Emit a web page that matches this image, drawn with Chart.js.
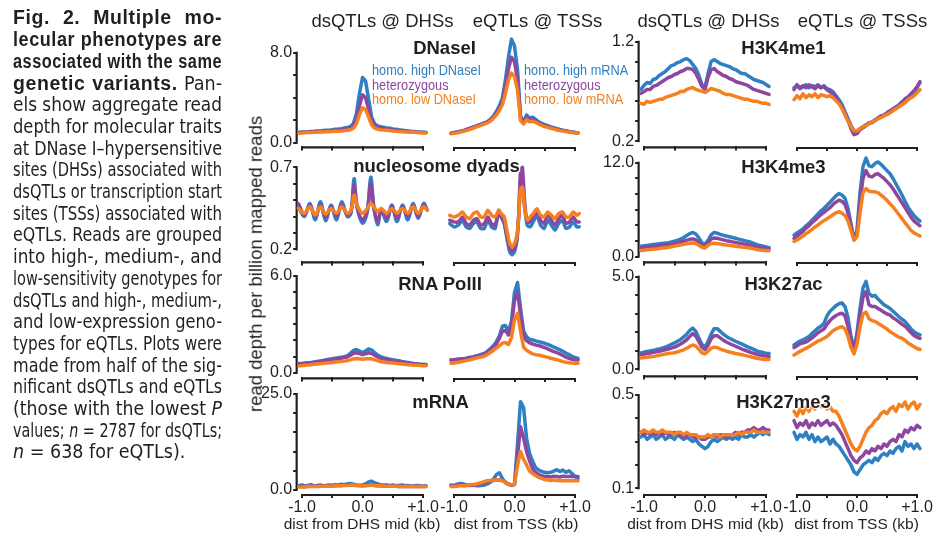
<!DOCTYPE html>
<html><head><meta charset="utf-8">
<script src="https://cdn.jsdelivr.net/npm/chart.js@4.4.1/dist/chart.umd.min.js"></script>
<style>
html,body{margin:0;padding:0;background:#fff;}
body{width:946px;height:559px;position:relative;overflow:hidden;font-family:'Liberation Sans',Arial,sans-serif;color:#231f20;}
canvas{position:absolute;}
.t{position:absolute;white-space:nowrap;line-height:1;}
.cl{position:absolute;left:13px;white-space:nowrap;font-size:19.5px;line-height:21.7px;font-family:'Liberation Sans Narrow','DejaVu Sans Condensed','Liberation Sans',sans-serif;color:#231f20;}
.cl b{font-family:'Liberation Sans',Arial,sans-serif;font-weight:bold;letter-spacing:0.6px;}
.halo{text-shadow:0 0 2px #fff,0 0 2px #fff,0 0 3px #fff,1px 1px 1px #fff,-1px -1px 1px #fff;}
</style></head><body>
<script>
// ================= DATA =================
// x positions (kb)
const xGrid = [-1.05,-1.0,-0.95,-0.9,-0.85,-0.8,-0.75,-0.7,-0.65,-0.6,
  -0.55,-0.5,-0.45,-0.4,-0.35,-0.3,-0.25,-0.2,-0.15,-0.1,
  -0.05,0,0.05,0.1,0.15,0.2,0.25,0.3,0.35,0.4,
  0.45,0.5,0.55,0.6,0.65,0.7,0.75,0.8,0.85,0.9,
  0.95,1.0,1.05];
const xNucDhs = [-1.06,-0.96,-0.87,-0.78,-0.695,-0.61,-0.52,-0.43,-0.345,-0.25,
  -0.19,-0.14,-0.09,0.0,0.08,0.135,0.19,0.25,0.31,0.40,
  0.485,0.57,0.66,0.75,0.835,0.92,1.01,1.07];
const xNucTss = [-1.07,-1.0,-0.93,-0.86,-0.8,-0.74,-0.68,-0.62,-0.56,-0.5,
  -0.44,-0.38,-0.32,-0.26,-0.22,-0.17,-0.12,-0.08,-0.04,0.0,
  0.04,0.07,0.1,0.13,0.17,0.21,0.26,0.31,0.37,0.43,
  0.49,0.55,0.61,0.67,0.73,0.79,0.85,0.91,0.97,1.03,1.07];
const xTickValues = [-1,-0.5,0,0.5,1];
const xTickLabels = ['-1.0','','0.0','','+1.0'];
const seriesNames = ['homo. high','heterozygous','homo. low'];

// Y tick values per panel row
const yTicksDnase = [0,2,4,6,8];
const yTicksNuc = [0.2,0.3,0.4,0.5,0.6,0.7];
const yTicksPol = [0,1,2,3,4,5,6];
const yTicksMrna = [0,5,10,15,20,25];
const yTicksK4me1 = [0.2,0.4,0.6,0.8,1.0,1.2];
const yTicksK4me3 = [0,2,4,6,8,10,12];
const yTicksK27ac = [0,1,2,3,4,5];
const yTicksK27me3 = [0.1,0.2,0.3,0.4,0.5];

// DNaseI @ DHS
const dnaseDhsHi = [0.92,0.95,0.93,0.98,1.0,1.02,1.05,1.04,1.08,1.1, 1.12,1.15,1.2,1.22,1.25,1.3,1.35,1.45,1.7,2.6, 4.4,5.8,5.5,3.9,2.3,1.7,1.5,1.42,1.38,1.3, 1.28,1.22,1.2,1.15,1.12,1.08,1.05,1.02,1.0,0.97, 0.95,0.94,0.92];
const dnaseDhsHet = [0.9,0.92,0.92,0.95,0.97,0.98,1.0,1.0,1.03,1.05, 1.07,1.08,1.12,1.14,1.16,1.2,1.25,1.32,1.5,2.1, 3.3,4.25,4.0,3.0,1.9,1.5,1.35,1.3,1.25,1.2, 1.18,1.14,1.12,1.08,1.05,1.02,1.0,0.98,0.96,0.94, 0.92,0.9,0.9];
const dnaseDhsLo = [0.85,0.87,0.88,0.9,0.9,0.92,0.93,0.95,0.95,0.97, 0.98,1.0,1.02,1.03,1.05,1.08,1.1,1.15,1.28,1.7, 2.5,3.1,2.95,2.3,1.6,1.3,1.2,1.15,1.12,1.1, 1.08,1.05,1.03,1.0,0.98,0.96,0.95,0.93,0.92,0.9, 0.88,0.87,0.86];
// DNaseI @ TSS
const dnaseTssHi = [0.9,0.95,1.0,1.05,1.1,1.2,1.3,1.4,1.5,1.6, 1.7,1.8,1.9,2.1,2.4,2.8,3.3,4.0,5.6,7.6, 9.2,8.6,6.5,2.4,1.9,2.5,2.2,2.3,2.1,1.9, 1.75,1.65,1.55,1.45,1.38,1.3,1.22,1.15,1.1,1.05, 1.0,0.95,0.92];
const dnaseTssHet = [0.88,0.92,0.98,1.05,1.12,1.2,1.3,1.38,1.48,1.58, 1.68,1.78,1.88,2.05,2.3,2.65,3.1,3.7,5.0,6.6, 7.6,7.2,5.6,2.2,1.8,2.3,2.05,2.1,1.95,1.8, 1.65,1.55,1.48,1.4,1.32,1.25,1.18,1.12,1.08,1.03, 0.98,0.95,0.92];
const dnaseTssLo = [0.85,0.88,0.92,0.98,1.05,1.12,1.2,1.3,1.4,1.5, 1.6,1.7,1.8,1.95,2.2,2.5,2.9,3.4,4.4,5.6, 6.2,5.9,4.7,2.0,1.7,2.1,1.9,1.95,1.85,1.7, 1.58,1.48,1.4,1.32,1.25,1.18,1.12,1.08,1.03,1.0, 0.95,0.92,0.9];
// nucleosome dyads @ DHS (xNucDhs)
const nucDhsHi = [0.46,0.40,0.48,0.38,0.49,0.375,0.47,0.38,0.49,0.40, 0.42,0.63,0.46,0.36,0.43,0.64,0.45,0.35,0.44,0.37, 0.47,0.37,0.47,0.38,0.48,0.39,0.48,0.44];
const nucDhsHet = [0.48,0.41,0.47,0.40,0.47,0.395,0.46,0.40,0.47,0.41, 0.43,0.59,0.46,0.38,0.44,0.60,0.45,0.37,0.44,0.39, 0.46,0.39,0.46,0.40,0.47,0.40,0.47,0.44];
const nucDhsLo = [0.45,0.42,0.46,0.41,0.46,0.415,0.45,0.42,0.46,0.42, 0.44,0.53,0.47,0.42,0.45,0.48,0.46,0.43,0.45,0.42, 0.45,0.42,0.45,0.42,0.46,0.42,0.46,0.44];
// nucleosome dyads @ TSS (xNucTss)
const nucTssHi = [0.36,0.34,0.35,0.38,0.34,0.33,0.36,0.37,0.33,0.33, 0.38,0.34,0.33,0.44,0.40,0.36,0.26,0.19,0.17,0.19, 0.26,0.40,0.62,0.60,0.45,0.35,0.34,0.37,0.41,0.35, 0.33,0.38,0.35,0.32,0.36,0.38,0.33,0.34,0.37,0.34,0.34];
const nucTssHet = [0.38,0.37,0.37,0.40,0.36,0.35,0.38,0.39,0.35,0.36, 0.40,0.36,0.35,0.43,0.40,0.37,0.28,0.21,0.19,0.21, 0.27,0.42,0.68,0.70,0.48,0.37,0.37,0.40,0.44,0.38, 0.36,0.42,0.38,0.35,0.39,0.41,0.36,0.37,0.40,0.37,0.37];
const nucTssLo = [0.41,0.40,0.41,0.43,0.40,0.39,0.42,0.43,0.40,0.40, 0.44,0.41,0.40,0.44,0.42,0.40,0.31,0.24,0.22,0.24, 0.29,0.40,0.57,0.58,0.45,0.38,0.40,0.42,0.45,0.41, 0.40,0.43,0.41,0.39,0.42,0.43,0.40,0.40,0.43,0.41,0.42];
// RNA PolII @ DHS
const polDhsHi = [0.57,0.58,0.6,0.62,0.64,0.67,0.7,0.73,0.76,0.8, 0.84,0.87,0.9,0.93,0.96,1.0,1.06,1.2,1.38,1.44, 1.35,1.25,1.35,1.48,1.42,1.25,1.1,1.0,0.93,0.88, 0.84,0.8,0.77,0.74,0.7,0.67,0.64,0.6,0.57,0.55, 0.53,0.52,0.51];
const polDhsHet = [0.55,0.56,0.58,0.6,0.62,0.64,0.67,0.7,0.73,0.76, 0.79,0.82,0.85,0.88,0.9,0.94,0.98,1.08,1.2,1.24, 1.18,1.12,1.17,1.24,1.2,1.08,0.98,0.9,0.85,0.8, 0.77,0.74,0.71,0.68,0.65,0.62,0.6,0.57,0.55,0.53, 0.51,0.5,0.49];
const polDhsLo = [0.42,0.44,0.46,0.48,0.5,0.52,0.54,0.56,0.58,0.6, 0.62,0.64,0.66,0.68,0.7,0.72,0.75,0.8,0.86,0.88, 0.86,0.84,0.86,0.87,0.86,0.8,0.75,0.7,0.67,0.64, 0.62,0.6,0.58,0.56,0.54,0.52,0.5,0.49,0.47,0.46, 0.45,0.44,0.44];
// RNA PolII @ TSS
const polTssHi = [0.82,0.84,0.86,0.88,0.9,0.93,0.97,1.0,1.05,1.1, 1.17,1.23,1.35,1.5,1.7,1.95,2.3,2.9,2.95,2.6, 3.2,5.0,5.6,4.0,2.6,2.25,2.1,2.05,2.0,1.95, 1.9,1.85,1.78,1.7,1.62,1.54,1.45,1.35,1.25,1.15, 1.05,0.98,0.92];
const polTssHet = [0.82,0.83,0.84,0.86,0.88,0.9,0.94,0.98,1.02,1.07, 1.12,1.16,1.28,1.42,1.6,1.82,2.15,2.6,2.65,2.36, 2.9,4.5,5.0,3.6,2.3,2.0,1.88,1.8,1.75,1.72, 1.65,1.58,1.5,1.42,1.34,1.27,1.2,1.1,1.0,0.92, 0.87,0.84,0.82];
const polTssLo = [0.62,0.64,0.67,0.7,0.74,0.78,0.82,0.87,0.92,0.97, 1.0,1.05,1.15,1.28,1.42,1.56,1.7,1.86,1.9,1.78, 2.2,3.3,3.7,2.6,1.6,1.42,1.3,1.2,1.15,1.12, 1.08,1.03,0.98,0.93,0.88,0.84,0.78,0.72,0.68,0.65, 0.63,0.62,0.62];
// mRNA @ DHS
const mrnaDhsHi = [1.1,1.3,1.0,1.2,1.4,1.0,1.2,1.3,1.1,1.2, 1.3,1.2,1.4,1.3,1.5,1.4,1.6,1.7,1.5,1.3, 1.2,1.3,1.6,2.1,2.3,1.9,1.6,1.4,1.3,1.3, 1.2,1.3,1.1,1.2,1.3,1.1,1.2,1.0,1.1,1.2, 1.1,1.0,1.1];
const mrnaDhsHet = [0.9,1.0,0.9,1.0,1.0,1.0,1.1,1.0,1.1,1.1, 1.1,1.2,1.1,1.2,1.2,1.3,1.3,1.3,1.3,1.2, 1.2,1.1,1.2,1.3,1.3,1.2,1.1,1.1,1.0,1.0, 1.0,1.0,1.0,0.9,1.0,0.9,1.0,0.9,0.9,1.0, 0.9,0.9,0.9];
const mrnaDhsLo = [0.8,0.8,0.8,0.9,0.9,0.9,0.9,1.0,1.0,1.0, 1.0,1.0,1.1,1.1,1.1,1.2,1.2,1.3,1.3,1.2, 1.2,1.1,1.1,1.2,1.3,1.2,1.1,1.1,1.0,1.0, 1.0,1.0,1.0,0.9,0.9,0.9,0.9,0.9,0.9,0.9, 0.9,0.9,0.9];
// mRNA @ TSS
const mrnaTssHi = [1.3,1.2,1.5,1.7,1.6,1.3,1.2,1.3,1.2,1.1, 1.2,1.3,1.6,2.0,2.8,4.0,4.5,3.0,1.9,1.4, 1.2,1.5,12.0,23.0,21.5,13.4,9.5,7.5,5.8,5.2, 4.8,4.6,4.5,4.6,4.9,5.3,4.8,5.2,4.6,5.0, 4.3,3.5,3.0];
const mrnaTssHet = [1.1,1.1,1.2,1.3,1.2,1.2,1.3,1.2,1.3,1.4, 1.6,1.9,2.1,2.3,2.5,2.6,2.6,2.5,2.1,1.6, 1.3,1.4,9.0,16.5,13.5,10.0,7.5,5.5,4.6,4.0, 3.7,3.5,3.5,3.4,3.6,3.5,3.4,3.6,3.5,3.5, 3.5,3.5,3.5];
const mrnaTssLo = [0.9,0.9,1.0,1.1,1.1,1.2,1.3,1.4,1.5,1.7, 1.9,2.2,2.4,2.5,2.6,2.6,2.6,2.4,2.0,1.5, 1.3,1.5,6.5,10.0,8.0,6.5,4.9,4.3,3.7,3.3, 3.0,2.7,2.6,2.5,2.6,2.5,2.4,2.5,2.4,2.4, 2.4,2.4,2.4];
// H3K4me1 @ DHS
const k4me1DhsHi = [0.72,0.76,0.79,0.78,0.82,0.83,0.86,0.88,0.9,0.93, 0.96,0.97,0.99,1.0,1.02,1.03,1.01,0.97,0.93,0.86, 0.77,0.74,0.88,1.0,1.02,1.0,0.98,0.97,0.96,0.95, 0.93,0.92,0.9,0.88,0.88,0.86,0.84,0.82,0.81,0.8, 0.79,0.77,0.75];
const k4me1DhsHet = [0.68,0.7,0.72,0.72,0.75,0.76,0.78,0.8,0.82,0.84, 0.85,0.87,0.88,0.9,0.91,0.93,0.93,0.92,0.88,0.82, 0.75,0.72,0.84,0.92,0.93,0.9,0.88,0.86,0.85,0.83, 0.82,0.8,0.79,0.78,0.77,0.76,0.74,0.72,0.71,0.7, 0.69,0.68,0.67];
const k4me1DhsLo = [0.58,0.57,0.6,0.59,0.6,0.61,0.62,0.62,0.64,0.65, 0.66,0.67,0.68,0.7,0.7,0.72,0.73,0.74,0.72,0.71, 0.7,0.69,0.71,0.73,0.72,0.71,0.7,0.68,0.67,0.67, 0.66,0.65,0.64,0.63,0.62,0.62,0.61,0.6,0.6,0.59, 0.58,0.58,0.57];
// H3K4me1 @ TSS
const k4me1TssHi = [0.74,0.76,0.73,0.75,0.77,0.74,0.76,0.75,0.77,0.74, 0.76,0.73,0.72,0.7,0.66,0.62,0.57,0.5,0.43,0.36, 0.31,0.3,0.33,0.35,0.37,0.38,0.4,0.41,0.44,0.45, 0.47,0.48,0.5,0.53,0.54,0.57,0.6,0.62,0.65,0.67, 0.7,0.74,0.79];
const k4me1TssHet = [0.72,0.77,0.74,0.76,0.74,0.77,0.75,0.73,0.76,0.74, 0.75,0.72,0.7,0.68,0.65,0.6,0.55,0.48,0.41,0.33, 0.27,0.28,0.32,0.34,0.36,0.39,0.39,0.42,0.43,0.46, 0.46,0.49,0.51,0.52,0.55,0.56,0.59,0.63,0.64,0.68, 0.71,0.75,0.8];
const k4me1TssLo = [0.62,0.66,0.63,0.68,0.64,0.67,0.65,0.68,0.64,0.67, 0.66,0.65,0.66,0.64,0.61,0.58,0.53,0.47,0.41,0.35, 0.31,0.31,0.33,0.35,0.36,0.38,0.4,0.41,0.43,0.44, 0.46,0.47,0.49,0.51,0.53,0.55,0.57,0.59,0.62,0.64, 0.66,0.69,0.72];
// H3K4me3 @ DHS
const k4me3DhsHi = [1.35,1.4,1.45,1.5,1.55,1.6,1.65,1.7,1.75,1.8, 1.88,1.98,2.1,2.25,2.45,2.7,2.95,3.1,2.9,2.4, 1.8,1.55,2.1,2.8,3.1,3.0,2.85,2.75,2.65,2.55, 2.45,2.35,2.25,2.15,2.05,1.95,1.85,1.7,1.55,1.45, 1.35,1.25,1.15];
const k4me3DhsHet = [1.14,1.18,1.22,1.26,1.3,1.35,1.4,1.45,1.5,1.55, 1.62,1.72,1.8,1.9,2.0,2.12,2.22,2.28,2.15,1.8, 1.45,1.35,1.8,2.25,2.4,2.35,2.25,2.15,2.05,1.98, 1.9,1.82,1.75,1.68,1.6,1.52,1.45,1.35,1.25,1.18, 1.12,1.08,1.05];
const k4me3DhsLo = [0.8,0.84,0.88,0.92,0.96,1.0,1.05,1.1,1.15,1.2, 1.27,1.35,1.42,1.5,1.58,1.66,1.72,1.77,1.7,1.45, 1.2,1.12,1.45,1.7,1.72,1.68,1.62,1.55,1.5,1.45, 1.4,1.35,1.3,1.25,1.2,1.14,1.08,1.0,0.93,0.87, 0.83,0.8,0.77];
// H3K4me3 @ TSS
const k4me3TssHi = [2.8,3.1,3.35,3.6,4.0,4.3,4.7,5.1,5.5,5.9, 6.2,6.6,7.0,7.4,7.8,8.1,7.9,7.5,6.2,4.2, 2.3,3.4,8.2,11.5,12.6,11.6,11.5,11.9,12.1,11.8, 11.4,11.0,10.6,10.0,9.3,8.6,7.9,7.1,6.4,5.8, 5.3,4.9,4.6];
const k4me3TssHet = [2.4,2.7,3.0,3.3,3.7,4.0,4.4,4.7,5.1,5.4, 5.7,6.0,6.3,6.7,7.0,7.25,7.1,6.7,5.6,3.9, 2.2,3.0,7.0,10.0,11.0,10.3,10.2,10.5,10.6,10.3, 10.0,9.6,9.2,8.7,8.1,7.5,6.9,6.3,5.7,5.1, 4.6,4.3,4.0];
const k4me3TssLo = [2.0,2.2,2.45,2.7,3.0,3.25,3.55,3.85,4.1,4.4, 4.65,4.9,5.15,5.4,5.65,5.8,5.6,5.3,4.6,3.4, 2.2,2.6,5.6,8.2,8.7,8.4,8.3,8.3,8.2,7.9, 7.6,7.2,6.8,6.4,5.9,5.4,4.9,4.4,3.9,3.4, 3.1,2.9,2.7];
// H3K27ac @ DHS
const k27acDhsHi = [0.89,0.93,0.97,1.0,1.03,1.07,1.1,1.15,1.2,1.27, 1.35,1.43,1.52,1.62,1.75,1.9,2.1,2.23,2.05,1.7, 1.35,1.18,1.5,1.9,2.2,2.2,2.05,1.9,1.78,1.68, 1.6,1.52,1.45,1.38,1.3,1.22,1.15,1.08,1.0,0.95, 0.91,0.88,0.86];
const k27acDhsHet = [0.8,0.83,0.86,0.89,0.92,0.95,0.98,1.02,1.06,1.1, 1.15,1.2,1.28,1.37,1.48,1.6,1.78,1.93,1.8,1.5, 1.2,1.07,1.3,1.65,1.82,1.82,1.7,1.58,1.48,1.4, 1.32,1.25,1.18,1.1,1.04,0.98,0.92,0.87,0.82,0.77, 0.74,0.72,0.7];
const k27acDhsLo = [0.62,0.64,0.66,0.68,0.7,0.73,0.76,0.8,0.83,0.86, 0.88,0.9,0.95,1.0,1.06,1.14,1.24,1.32,1.26,1.08, 0.9,0.84,0.98,1.15,1.2,1.18,1.1,1.04,0.99,0.94, 0.9,0.86,0.83,0.8,0.76,0.72,0.68,0.64,0.6,0.57, 0.55,0.54,0.54];
// H3K27ac @ TSS
const k27acTssHi = [1.34,1.45,1.55,1.62,1.7,1.8,1.95,2.1,2.25,2.35, 2.5,2.9,3.15,3.3,3.45,3.55,3.6,3.4,2.8,1.8, 1.1,2.0,3.3,4.4,4.75,4.1,3.95,4.0,3.8,3.65, 3.5,3.4,3.3,3.15,3.0,2.85,2.72,2.6,2.4,2.2, 2.05,1.95,1.88];
const k27acTssHet = [1.2,1.3,1.4,1.45,1.5,1.6,1.72,1.85,2.0,2.1, 2.2,2.45,2.65,2.8,2.92,3.0,3.04,2.9,2.35,1.6, 1.07,1.8,2.9,3.9,4.2,3.5,3.4,3.4,3.3,3.2, 3.1,3.0,2.95,2.8,2.7,2.58,2.45,2.35,2.18,2.0, 1.85,1.75,1.7];
const k27acTssLo = [0.8,0.9,1.0,1.08,1.16,1.25,1.35,1.45,1.55,1.62, 1.7,1.8,1.95,2.1,2.2,2.28,2.32,2.2,1.8,1.2, 0.86,1.4,2.3,3.0,3.1,2.75,2.65,2.6,2.5,2.4, 2.3,2.2,2.05,1.96,1.85,1.75,1.7,1.6,1.45,1.35, 1.25,1.15,1.1];
// H3K27me3 @ DHS
const k27me3DhsHi = [0.32,0.33,0.31,0.32,0.33,0.31,0.32,0.33,0.31,0.32, 0.32,0.31,0.33,0.32,0.31,0.32,0.31,0.3,0.31,0.29, 0.28,0.27,0.28,0.3,0.31,0.3,0.31,0.32,0.31,0.32, 0.31,0.32,0.31,0.33,0.32,0.32,0.33,0.32,0.33,0.34, 0.33,0.34,0.33];
const k27me3DhsHet = [0.34,0.33,0.34,0.33,0.34,0.33,0.34,0.33,0.34,0.33, 0.33,0.34,0.33,0.33,0.32,0.33,0.33,0.32,0.32,0.32, 0.31,0.31,0.32,0.32,0.33,0.32,0.33,0.33,0.32,0.33, 0.33,0.34,0.33,0.34,0.34,0.35,0.35,0.36,0.35,0.35, 0.36,0.35,0.35];
const k27me3DhsLo = [0.34,0.35,0.34,0.34,0.35,0.34,0.34,0.35,0.34,0.34, 0.34,0.33,0.34,0.34,0.33,0.34,0.33,0.33,0.33,0.32, 0.32,0.32,0.33,0.32,0.33,0.33,0.32,0.33,0.33,0.33, 0.33,0.33,0.34,0.33,0.34,0.34,0.34,0.35,0.34,0.34, 0.34,0.34,0.34];
// H3K27me3 @ TSS
const k27me3TssHi = [0.34,0.31,0.33,0.32,0.34,0.31,0.33,0.3,0.32,0.3, 0.31,0.32,0.29,0.31,0.29,0.28,0.26,0.24,0.22,0.2, 0.17,0.16,0.18,0.2,0.21,0.22,0.21,0.23,0.22,0.24, 0.25,0.24,0.26,0.25,0.27,0.28,0.26,0.3,0.28,0.29, 0.27,0.29,0.27];
const k27me3TssHet = [0.39,0.36,0.38,0.37,0.39,0.36,0.38,0.37,0.39,0.37, 0.38,0.39,0.37,0.38,0.37,0.35,0.33,0.3,0.27,0.24, 0.22,0.21,0.23,0.24,0.26,0.25,0.27,0.26,0.28,0.27, 0.29,0.28,0.3,0.31,0.3,0.33,0.32,0.35,0.34,0.36, 0.35,0.37,0.36];
const k27me3TssLo = [0.43,0.41,0.44,0.42,0.45,0.43,0.46,0.44,0.47,0.45, 0.46,0.44,0.45,0.43,0.43,0.41,0.38,0.35,0.32,0.29, 0.27,0.26,0.28,0.31,0.34,0.36,0.37,0.39,0.4,0.42, 0.43,0.42,0.44,0.45,0.43,0.46,0.45,0.47,0.44,0.46, 0.47,0.44,0.46];

// ================= LAYOUT / STYLE =================
const BLUE = '#2e80c3', PURPLE = '#8d479f', ORANGE = '#f5801f', DARK = '#231f20';
const XMIN = -1.08, XMAX = 1.08;
const COLS = { LL:{m1:302,p1:423}, LR:{m1:454,p1:575}, RL:{m1:644,p1:766}, RR:{m1:797,p1:917} };
const ROWS = {
  L:[{T:52.7,Bt:143.3,B:147},{T:167.3,Bt:250,B:262},{T:276,Bt:373.3,B:378},{T:394,Bt:490,B:494}],
  R:[{T:41.7,Bt:141.7,B:147},{T:162.7,Bt:257.3,B:262},{T:276.7,Bt:370,B:376},{T:395,Bt:488.3,B:494}]
};
Chart.defaults.font.family = "'Liberation Sans', Arial, sans-serif";
Chart.defaults.color = DARK;

const panels = [
  {grp:'L',row:0,col:'LL',showY:true,ticks:yTicksDnase,x:xGrid,d:[dnaseDhsHi,dnaseDhsHet,dnaseDhsLo]},
  {grp:'L',row:0,col:'LR',showY:false,ticks:yTicksDnase,x:xGrid,d:[dnaseTssHi,dnaseTssHet,dnaseTssLo]},
  {grp:'L',row:1,col:'LL',showY:true,ticks:yTicksNuc,x:xNucDhs,d:[nucDhsHi,nucDhsHet,nucDhsLo],tension:0.35},
  {grp:'L',row:1,col:'LR',showY:false,ticks:yTicksNuc,x:xNucTss,d:[nucTssHi,nucTssHet,nucTssLo],tension:0.2},
  {grp:'L',row:2,col:'LL',showY:true,ticks:yTicksPol,x:xGrid,d:[polDhsHi,polDhsHet,polDhsLo]},
  {grp:'L',row:2,col:'LR',showY:false,ticks:yTicksPol,x:xGrid,d:[polTssHi,polTssHet,polTssLo]},
  {grp:'L',row:3,col:'LL',showY:true,ticks:yTicksMrna,x:xGrid,d:[mrnaDhsHi,mrnaDhsHet,mrnaDhsLo]},
  {grp:'L',row:3,col:'LR',showY:false,ticks:yTicksMrna,x:xGrid,d:[mrnaTssHi,mrnaTssHet,mrnaTssLo]},
  {grp:'R',row:0,col:'RL',showY:true,ticks:yTicksK4me1,x:xGrid,d:[k4me1DhsHi,k4me1DhsHet,k4me1DhsLo]},
  {grp:'R',row:0,col:'RR',showY:false,ticks:yTicksK4me1,x:xGrid,d:[k4me1TssHi,k4me1TssHet,k4me1TssLo]},
  {grp:'R',row:1,col:'RL',showY:true,ticks:yTicksK4me3,x:xGrid,d:[k4me3DhsHi,k4me3DhsHet,k4me3DhsLo]},
  {grp:'R',row:1,col:'RR',showY:false,ticks:yTicksK4me3,x:xGrid,d:[k4me3TssHi,k4me3TssHet,k4me3TssLo]},
  {grp:'R',row:2,col:'RL',showY:true,ticks:yTicksK27ac,x:xGrid,d:[k27acDhsHi,k27acDhsHet,k27acDhsLo]},
  {grp:'R',row:2,col:'RR',showY:false,ticks:yTicksK27ac,x:xGrid,d:[k27acTssHi,k27acTssHet,k27acTssLo]},
  {grp:'R',row:3,col:'RL',showY:true,ticks:yTicksK27me3,x:xGrid,d:[k27me3DhsHi,k27me3DhsHet,k27me3DhsLo]},
  {grp:'R',row:3,col:'RR',showY:false,ticks:yTicksK27me3,x:xGrid,d:[k27me3TssHi,k27me3TssHet,k27me3TssLo]}
];

const axisLines = {
  id:'axisLines',
  beforeDatasetsDraw(chart, args, o) {
    const {ctx, chartArea:ca, scales:{x, y}} = chart;
    ctx.save(); ctx.strokeStyle = DARK; ctx.lineWidth = 2.2; ctx.lineCap = 'butt';
    if (o.showY) {
      ctx.beginPath();
      ctx.moveTo(ca.left - 0.5, y.getPixelForValue(o.yTop) - 1);
      ctx.lineTo(ca.left - 0.5, y.getPixelForValue(o.yBot) + 1);
      ctx.stroke();
    }
    ctx.beginPath();
    ctx.moveTo(x.getPixelForValue(-1) - 1, ca.bottom + 1);
    ctx.lineTo(x.getPixelForValue(1) + 1, ca.bottom + 1);
    ctx.stroke();
    ctx.restore();
  }
};

function makePanel(p) {
  const col = COLS[p.col], row = ROWS[p.grp][p.row];
  const k = (col.p1 - col.m1) / 2;
  const L = col.m1 + (XMIN + 1) * k, R = col.p1 + (XMAX - 1) * k;
  const yW = p.showY ? 44 : 0, padL = 24, padR = 24, padT = 22;
  const bottomRow = p.row === 3;
  const xH = bottomRow ? 30 : 6;
  const cl = Math.floor(L - yW - padL), ct = Math.floor(row.T - padT);
  const cw = Math.ceil(R + padR) - cl, ch = Math.ceil(row.B + xH + 4) - ct;
  const pad = {left: L - yW - cl, top: row.T - ct, right: cl + cw - R, bottom: ct + ch - row.B - xH};
  const top = p.ticks[p.ticks.length - 1], bot = p.ticks[0];
  const ymin = bot - (row.B - row.Bt) * (top - bot) / (row.Bt - row.T);
  const cv = document.createElement('canvas');
  cv.width = cw; cv.height = ch;
  cv.style.left = cl + 'px'; cv.style.top = ct + 'px';
  cv.style.width = cw + 'px'; cv.style.height = ch + 'px';
  document.body.appendChild(cv);
  const cols = [BLUE, PURPLE, ORANGE], orders = [2, 1, 0];
  new Chart(cv, {
    type: 'line',
    data: { datasets: p.d.map((arr, j) => ({
      label: seriesNames[j],
      data: p.x.map((xv, i) => ({x: xv, y: arr[i]})),
      borderColor: cols[j], backgroundColor: cols[j], borderWidth: 3.5,
      pointRadius: 0, tension: p.tension || 0, clip: false, order: orders[j],
      borderJoinStyle: 'round', borderCapStyle: 'round'
    })) },
    options: {
      responsive: false, animation: false, devicePixelRatio: 1,
      layout: { padding: pad },
      events: [],
      plugins: { legend: {display: false}, tooltip: {enabled: false},
        axisLines: { showY: p.showY, yTop: top, yBot: bot } },
      scales: {
        x: { type: 'linear', min: XMIN, max: XMAX,
          afterBuildTicks: s => { s.ticks = xTickValues.map(v => ({value: v})); },
          afterFit: s => { s.height = xH; },
          border: {display: false},
          grid: {drawOnChartArea: false, drawTicks: true, tickLength: 4, lineWidth: 2, color: DARK},
          ticks: {display: bottomRow, autoSkip: false, maxRotation: 0, minRotation: 0, padding: 0,
            font: {size: 16}, color: DARK, callback: (v, i) => xTickLabels[i]}
        },
        y: { type: 'linear', display: p.showY, min: ymin, max: top,
          afterBuildTicks: s => { s.ticks = p.ticks.map(v => ({value: v})); },
          afterFit: s => { s.width = yW; },
          border: {display: false},
          grid: {drawOnChartArea: false, drawTicks: true, tickLength: 4, lineWidth: 2, color: DARK},
          ticks: {autoSkip: false, padding: 1, font: {size: 16}, color: DARK,
            callback: (v, i, t) => (i === 0 || i === t.length - 1) ? Number(v).toFixed(1) : ''}
        }
      }
    },
    plugins: [axisLines]
  });
}
panels.forEach(makePanel);

// ================= TEXT =================
function txt(html, o) {
  const d = document.createElement('div');
  d.className = 't' + (o.halo ? ' halo' : '');
  d.innerHTML = html;
  d.style.fontSize = o.size + 'px';
  if (o.bold) d.style.fontWeight = 'bold';
  d.style.color = o.color || DARK;
  d.style.top = (o.base - 0.8465 * o.size) + 'px';
  if (o.cx !== undefined) { d.style.left = o.cx + 'px'; d.style.transform = 'translateX(-50%)'; }
  else { d.style.left = o.x + 'px'; if (o.sx) { d.style.transform = 'scaleX(' + o.sx + ')'; d.style.transformOrigin = '0 0'; } }
  document.body.appendChild(d);
  return d;
}
// column headers
txt('dsQTLs @ DHSs', {cx: 382.5, base: 27.5, size: 18.5});
txt('eQTLs @ TSSs', {cx: 537.5, base: 27.5, size: 18.5});
txt('dsQTLs @ DHSs', {cx: 708.5, base: 27.5, size: 18.5});
txt('eQTLs @ TSSs', {cx: 862.5, base: 27.5, size: 18.5});
// panel titles
txt('DNaseI', {cx: 444.5, base: 55, size: 18.5, bold: true, halo: true});
txt('H3K4me1', {cx: 783.5, base: 55, size: 18.5, bold: true, halo: true});
txt('nucleosome dyads', {cx: 436.5, base: 172.5, size: 18.5, bold: true, halo: true});
txt('H3K4me3', {cx: 783.5, base: 173.5, size: 18.5, bold: true, halo: true});
txt('RNA PolII', {cx: 440, base: 290.5, size: 18.5, bold: true, halo: true});
txt('H3K27ac', {cx: 783.5, base: 290.5, size: 18.5, bold: true, halo: true});
txt('mRNA', {cx: 440.5, base: 408.3, size: 18.5, bold: true, halo: true});
txt('H3K27me3', {cx: 783.5, base: 408.3, size: 18.5, bold: true, halo: true});
// x-axis titles
txt('dist from DHS mid (kb)', {cx: 362, base: 529, size: 15.5});
txt('dist from TSS (kb)', {cx: 516, base: 529, size: 15.5});
txt('dist from DHS mid (kb)', {cx: 705.5, base: 529, size: 15.5});
txt('dist from TSS (kb)', {cx: 856.5, base: 529, size: 15.5});
// legends
const legL = ['homo. high DNaseI', 'heterozygous', 'homo. low DNaseI'];
const legR = ['homo. high mRNA', 'heterozygous', 'homo. low mRNA'];
[BLUE, PURPLE, ORANGE].forEach((c, j) => {
  txt(legL[j], {x: 372, base: 75 + 14.2 * j, size: 15, color: c, sx: 0.85});
  txt(legR[j], {x: 524, base: 75 + 14.2 * j, size: 15, color: c, sx: 0.85});
});
// y axis title
const yt = document.createElement('div');
yt.className = 't'; yt.textContent = 'read depth per billion mapped reads';
yt.style.fontSize = '18.5px'; yt.style.left = '255.5px'; yt.style.top = '264px';
yt.style.transform = 'translate(-50%,-50%) rotate(-90deg)';
document.body.appendChild(yt);

// caption
const captionLines = [
  '<b>Fig. 2. Multiple mo-</b>',
  '<b>lecular phenotypes are</b>',
  '<b>associated with the same</b>',
  '<b>genetic variants.</b> Pan-',
  'els show aggregate read',
  'depth for molecular traits',
  'at DNase I–hypersensitive',
  'sites (DHSs) associated with',
  'dsQTLs or transcription start',
  'sites (TSSs) associated with',
  'eQTLs. Reads are grouped',
  'into high-, medium-, and',
  'low-sensitivity genotypes for',
  'dsQTLs and high-, medium-,',
  'and low-expression geno-',
  'types for eQTLs. Plots were',
  'made from half of the sig-',
  'nificant dsQTLs and eQTLs',
  '(those with the lowest <i>P</i>',
  'values; <i>n</i> = 2787 for dsQTLs;',
  '<i>n</i> = 638 for eQTLs).'
];
const CW = 209;
captionLines.forEach((h, i) => {
  const d = document.createElement('div');
  d.className = 'cl';
  d.style.top = (25 + 21.7 * i - 17.6) + 'px';
  const s = document.createElement('span');
  s.innerHTML = h; d.appendChild(s);
  document.body.appendChild(d);
  const w = s.getBoundingClientRect().width;
  const last = i === captionLines.length - 1;
  if (w > CW) {
    s.style.display = 'inline-block';
    s.style.transformOrigin = '0 0';
    s.style.transform = 'scaleX(' + (CW / w) + ')';
  } else if (!last) {
    const n = (s.textContent.match(/ /g) || []).length;
    if (n > 0) d.style.wordSpacing = ((CW - w) / n) + 'px';
  }
});
</script>
</body></html>
